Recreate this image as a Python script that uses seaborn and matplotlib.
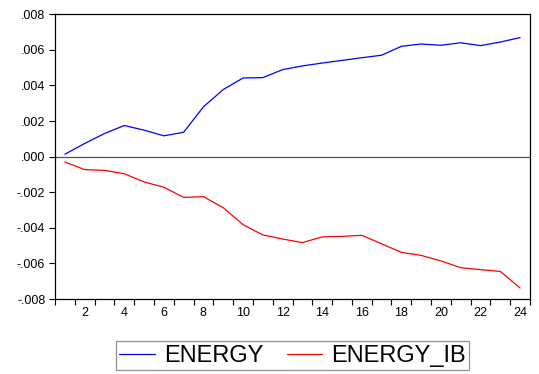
import numpy as np
import pandas as pd
import matplotlib
matplotlib.use("Agg")
import matplotlib.pyplot as plt
import seaborn as sns
from matplotlib.ticker import FixedLocator, FuncFormatter

# Impulse-response style paths over 24 periods
periods = list(range(1, 25))
energy = [0.00014, 0.00074, 0.00130, 0.00175, 0.00149, 0.00117, 0.00137, 0.00280,
          0.00377, 0.00442, 0.00444, 0.00489, 0.00510, 0.00526, 0.00541, 0.00556,
          0.00570, 0.00620, 0.00633, 0.00626, 0.00640, 0.00624, 0.00644, 0.00669]
energy_ib = [-0.00030, -0.00073, -0.00077, -0.00096, -0.00142, -0.00172, -0.00229, -0.00225,
             -0.00287, -0.00382, -0.00440, -0.00463, -0.00483, -0.00451, -0.00448, -0.00442,
             -0.00490, -0.00538, -0.00555, -0.00586, -0.00624, -0.00635, -0.00645, -0.00738]
series_names = ["ENERGY", "ENERGY_IB"]
y_ticks = [-0.008, -0.006, -0.004, -0.002, 0.0, 0.002, 0.004, 0.006, 0.008]
x_labels = list(range(2, 25, 2))

df = pd.DataFrame({
    "period": periods * 2,
    "value": energy + energy_ib,
    "series": [series_names[0]] * len(periods) + [series_names[1]] * len(periods),
})

sns.set_style("white")
plt.rcParams["font.family"] = ["Liberation Sans", "DejaVu Sans"]
plt.rcParams["text.color"] = "black"
plt.rcParams["xtick.color"] = "black"
plt.rcParams["ytick.color"] = "black"

fig = plt.figure(figsize=(5.39, 3.74), dpi=100)
ax = fig.add_axes([55 / 539, 1 - 299 / 374, 475 / 539, (299 - 14.3) / 374])

sns.lineplot(data=df, x="period", y="value", hue="series",
             palette={"ENERGY": "#0000ff", "ENERGY_IB": "#ff0000"},
             linewidth=0.9, ax=ax, legend=False)

ax.axhline(0, color="#555555", linewidth=0.9, zorder=1)

ax.set_xlim(0.5, 24.5)
ax.set_ylim(-0.008, 0.008)

# y axis: EViews-style labels without leading zero
ax.yaxis.set_major_locator(FixedLocator(y_ticks))
ax.yaxis.set_major_formatter(FuncFormatter(
    lambda v, p: ("-" if v < -1e-12 else "") + f"{abs(v):.3f}".lstrip("0")))
ax.tick_params(axis="y", which="major", direction="out", length=4.5, width=0.8,
               color="black", labelcolor="black", labelsize=9, pad=2.5, left=True)

# x axis: tick marks between periods, labels on even periods
ax.xaxis.set_major_locator(FixedLocator(x_labels))
ax.xaxis.set_major_formatter(FuncFormatter(lambda v, p: f"{int(v)}"))
ax.xaxis.set_minor_locator(FixedLocator(np.arange(0.5, 25, 1.0)))
ax.tick_params(axis="x", which="major", length=0, labelsize=9, pad=5.5,
               labelcolor="black", bottom=True)
ax.tick_params(axis="x", which="minor", direction="out", length=4, width=0.8,
               color="black", bottom=True)

ax.set_xlabel("")
ax.set_ylabel("")
for s in ax.spines.values():
    s.set_visible(True)
    s.set_color("black")
    s.set_linewidth(0.9)

handles = [plt.Line2D([], [], color="#0000ff", linewidth=0.9),
           plt.Line2D([], [], color="#ff0000", linewidth=0.9)]
leg = fig.legend(handles, series_names, loc="center",
                 bbox_to_anchor=(292.6 / 539, 1 - 355.9 / 374), ncol=2,
                 fontsize=17, frameon=True, fancybox=False, handlelength=1.5,
                 handletextpad=0.38, columnspacing=1.0, borderpad=0.15,
                 borderaxespad=0)
for t in leg.get_texts():
    t.set_color("black")
leg.get_frame().set_edgecolor("#777777")
leg.get_frame().set_linewidth(0.9)

fig.savefig("out.png", dpi=100)
